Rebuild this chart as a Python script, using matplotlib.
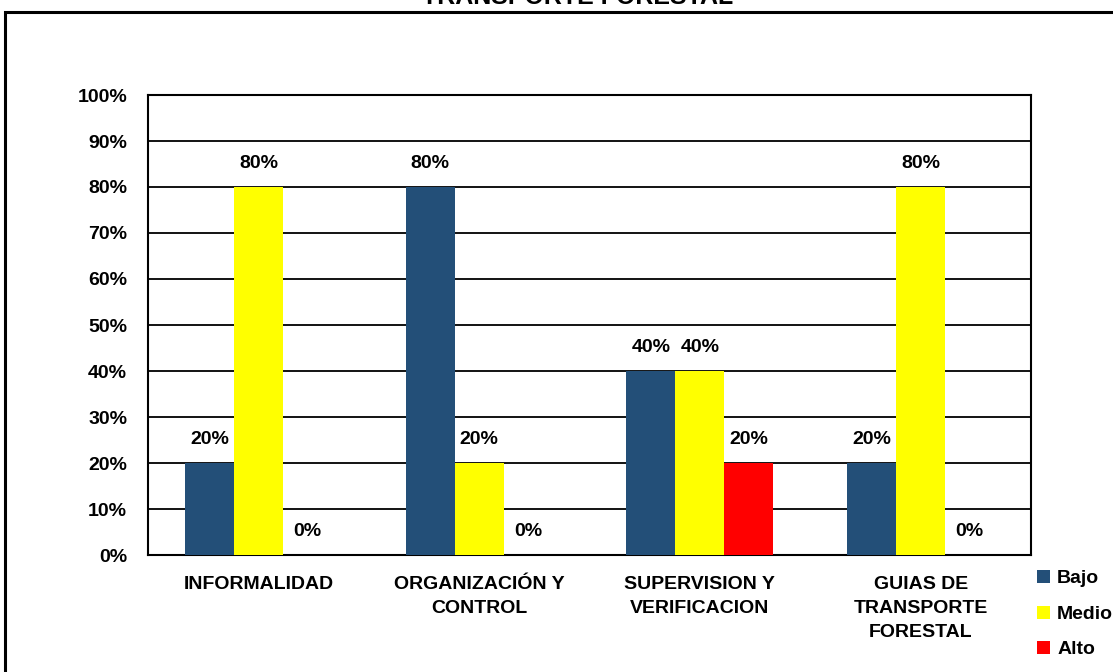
import matplotlib
matplotlib.use("Agg")
import matplotlib.pyplot as plt
import numpy as np
from matplotlib.patches import Rectangle

plt.rcParams["font.family"] = ["Liberation Sans", "DejaVu Sans"]
plt.rcParams["font.weight"] = "bold"

CATEGORIES = ["INFORMALIDAD", "ORGANIZACIÓN Y\nCONTROL", "SUPERVISION Y\nVERIFICACION",
              "GUIAS DE\nTRANSPORTE\nFORESTAL"]
SERIES = ["Bajo", "Medio", "Alto"]
BAJO = [20, 80, 40, 20]
MEDIO = [80, 20, 40, 80]
ALTO = [0, 0, 20, 0]
COLORS = ["#234f78", "#ffff00", "#ff0000"]
YTICKS = [0, 10, 20, 30, 40, 50, 60, 70, 80, 90, 100]

fig = plt.figure(figsize=(11.13, 6.72), dpi=100)
ax = fig.add_axes([148 / 1113, 117 / 672, 883 / 1113, 460 / 672])

x = np.arange(len(CATEGORIES))
w = 0.222
for k, (name, vals, col) in enumerate(zip(SERIES, [BAJO, MEDIO, ALTO], COLORS)):
    pos = x + (k - 1) * w
    ax.bar(pos, vals, w, color=col, label=name, zorder=3)
    for px, v in zip(pos, vals):
        ax.annotate(f"{v}%", (px, v), xytext=(0, 17), textcoords="offset points",
                    ha="center", va="center", fontsize=14, fontweight="bold")

ax.set_xlim(-0.5, len(CATEGORIES) - 0.5)
ax.set_ylim(0, 100)
ax.set_yticks(YTICKS)
ax.set_yticklabels([f"{t}%" for t in YTICKS], fontsize=14, fontweight="bold")
ax.yaxis.grid(True, color="black", lw=1.3, zorder=0)
ax.tick_params(axis="y", length=0, pad=15)
ax.tick_params(axis="x", length=0, pad=15)
ax.set_xticks(x)
ax.set_xticklabels(CATEGORIES, fontsize=14, fontweight="bold", linespacing=1.55, va="top")
for s in ax.spines.values():
    s.set_color("black"); s.set_linewidth(1.5)

# legend
handles, labels = ax.get_legend_handles_labels()
fig.legend(handles, labels, loc="upper left", bbox_to_anchor=(1037 / 1113, 1 - 570 / 672),
           frameon=False, fontsize=14, handlelength=0.67, handleheight=0.67,
           labelspacing=0.93, handletextpad=0.36, borderpad=0, borderaxespad=0)

# outer chart frame (extends beyond canvas on right and bottom)
fig.patches.append(Rectangle((5 / 1113, -0.05), 1.2, 1 - 12 / 672 + 0.05,
                             transform=fig.transFigure, fill=False, ec="black", lw=2.2))
fig.text(578 / 1113, 1 - 4 / 672, "TRANSPORTE FORESTAL", ha="center", va="baseline",
         fontsize=18, fontweight="bold")

fig.savefig("out.png", dpi=100)
